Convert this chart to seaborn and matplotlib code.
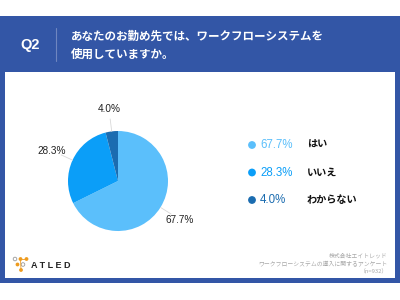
import numpy as np
import matplotlib
matplotlib.use("Agg")
import matplotlib.pyplot as plt
from matplotlib.patches import Rectangle, Circle
import seaborn as sns

sns.set_theme(style="white")
plt.rcParams['font.family'] = ['Noto Sans CJK JP', 'DejaVu Sans']

# ---- data ----
categories = ["はい", "いいえ", "わからない"]
values = [67.7, 28.3, 4.0]
pct_labels = ["67.7%", "28.3%", "4.0%"]
colors = ["#5BBFFB", "#0B9EF8", "#1B6CB0"]
question_no = "Q2"
question_lines = ["あなたのお勤め先では、ワークフローシステムを", "使用していますか。"]
source_lines = ["株式会社エイトレッド", "ワークフローシステムの導入に関するアンケート", "（n=932）"]

W, H = 400, 300
fig = plt.figure(figsize=(4, 3), dpi=100)
fig.patch.set_facecolor("white")

# background canvas in pixel coords
bg = fig.add_axes([0, 0, 1, 1])
bg.set_xlim(0, W)
bg.set_ylim(H, 0)
bg.axis("off")
blue = "#3356A6"
bg.add_patch(Rectangle((0, 16), 400, 267, color=blue, lw=0))
bg.add_patch(Rectangle((5, 72), 390, 206, color="white", lw=0))

# header
bg.text(30, 45, question_no, color="white", fontsize=10.5, fontweight="bold",
        ha="center", va="center", family=["Liberation Sans", "DejaVu Sans"])
bg.plot([56, 56], [28, 61], color="#6F86C0", lw=0.8)
for i, line in enumerate(question_lines):
    bg.text(71, 36 + i * 18, line, color="white", fontsize=8.3, fontweight="bold",
            ha="left", va="center")

# footer source
for i, line in enumerate(source_lines):
    bg.text(388, 256 + i * 8, line, color="#A8A8A8", fontsize=4.2, ha="right", va="center")

# logo
orange = "#EE9B1E"
for (x, y, c) in [(15, 259, "none"), (20.5, 259, orange), (26.5, 259, orange),
                  (17.5, 264.5, orange), (23, 264.5, "none"), (21, 270, orange)]:
    if c == "none":
        bg.add_patch(Circle((x, y), 1.8, facecolor="white", edgecolor="#999999", lw=0.6))
    else:
        bg.add_patch(Circle((x, y), 1.9, facecolor=c, edgecolor="none"))
bg.plot([20.5, 26.5], [259, 259], color=orange, lw=0.6)
bg.plot([20.5, 21], [259, 270], color=orange, lw=0.6)
bg.text(31, 266, "A T L E D", color="#222222", fontsize=6.5, fontweight="bold",
        ha="left", va="center", family=["Liberation Sans", "DejaVu Sans"])

# pie
cx, cy, r = 118, 181, 50
ax = fig.add_axes([(cx - r) / W, (H - cy - r) / H, 2 * r / W, 2 * r / H])
wedges, _ = ax.pie(values, colors=colors, startangle=90, counterclock=False,
                   wedgeprops=dict(linewidth=0))
ax.set_xlim(-1, 1)
ax.set_ylim(-1, 1)
ax.set_aspect("equal")
for w, lab in zip(wedges, pct_labels):
    ang = np.deg2rad((w.theta1 + w.theta2) / 2)
    c, s = np.cos(ang), np.sin(ang)
    ax.plot([1.0 * c, 1.25 * c], [1.0 * s, 1.25 * s], color="#D8D8D8", lw=0.6,
            clip_on=False)
    ax.text(1.46 * c, 1.46 * s, lab, ha="center", va="center", fontsize=7.2,
            color="#222222", family=["Liberation Sans", "DejaVu Sans"], clip_on=False)

# legend
for i, (cat, lab, col) in enumerate(zip(categories, pct_labels, colors)):
    y = 145 + i * 27.5
    bg.add_patch(Circle((252, y), 3.9, facecolor=col, edgecolor="none"))
    bg.text(260, y, lab, color=col, fontsize=8.3, ha="left", va="center",
            family=["Liberation Sans", "DejaVu Sans"])
    bg.text(307, y, cat, color="#111111", fontsize=7.3, fontweight="bold",
            ha="left", va="center")

fig.savefig("out.png", dpi=100, facecolor="white")
